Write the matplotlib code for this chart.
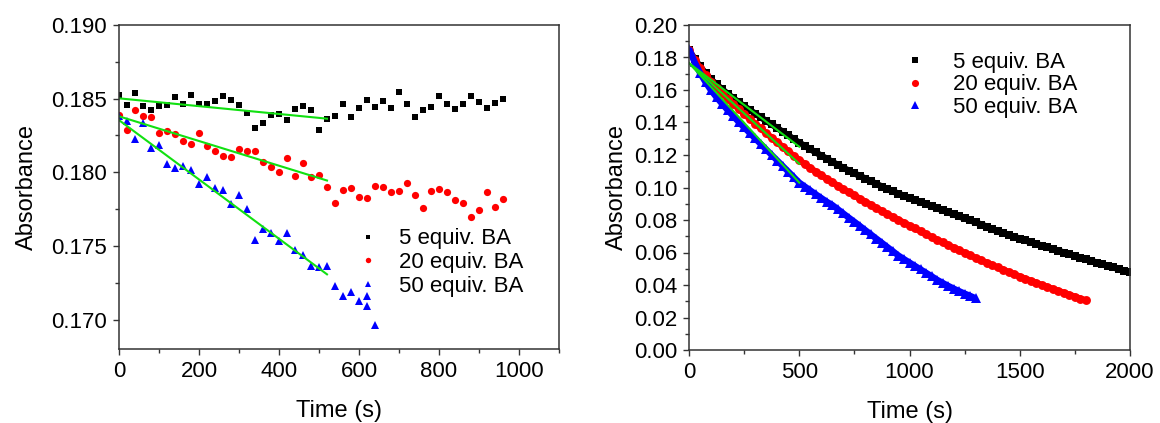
import numpy as np
import matplotlib
matplotlib.use("Agg")
import matplotlib.pyplot as plt
from matplotlib.ticker import MultipleLocator, FormatStrFormatter

plt.rcParams['font.family'] = ['Liberation Sans', 'DejaVu Sans']

# ---------------- data: left panel ----------------
labels = ["5 equiv. BA", "20 equiv. BA", "50 equiv. BA"]

t_left = list(range(0, 961, 20))
black_left = [0.18527, 0.18459, 0.18536, 0.18448, 0.18425, 0.18453, 0.18459, 0.18512,
              0.18466, 0.18527, 0.18466, 0.18466, 0.18484, 0.18516, 0.18488, 0.18455,
              0.18403, 0.18299, 0.18335, 0.18387, 0.18396, 0.18358, 0.18430, 0.18448,
              0.18425, 0.18290, 0.18364, 0.18385, 0.18464, 0.18378, 0.18437, 0.18488,
              0.18441, 0.18482, 0.18439, 0.18545, 0.18461, 0.18376, 0.18421, 0.18446,
              0.18520, 0.18464, 0.18432, 0.18466, 0.18518, 0.18478, 0.18437, 0.18471,
              0.18500]
red_left = [0.18392, 0.18290, 0.18421, 0.18380, 0.18373, 0.18267, 0.18283, 0.18263,
            0.18215, 0.18193, 0.18267, 0.18181, 0.18147, 0.18112, 0.18107, 0.18161,
            0.18145, 0.18145, 0.18073, 0.18037, 0.18003, 0.18098, 0.17978, 0.18061,
            0.17969, 0.17983, 0.17899, 0.17793, 0.17878, 0.17892, 0.17834, 0.17824,
            0.17905, 0.17899, 0.17867, 0.17876, 0.17924, 0.17849, 0.17759, 0.17872,
            0.17885, 0.17867, 0.17813, 0.17793, 0.17695, 0.17741, 0.17867, 0.17766,
            0.17820]
t_blue_left = [0, 20, 40, 60, 80, 100, 120, 140, 160, 180, 200, 220, 240, 260, 280, 300,
               320, 340, 360, 380, 400, 420, 440, 460, 480, 500, 520, 540, 560, 580, 600,
               620, 620, 640]
blue_left = [0.18380, 0.18349, 0.18224, 0.18337, 0.18163, 0.18183, 0.18059, 0.18030,
             0.18041, 0.18014, 0.17917, 0.17969, 0.17895, 0.17883, 0.17785, 0.17844,
             0.17754, 0.17542, 0.17617, 0.17590, 0.17533, 0.17585, 0.17472, 0.17438,
             0.17363, 0.17356, 0.17363, 0.17231, 0.17160, 0.17187, 0.17124, 0.17160,
             0.17089, 0.16963]

fit_t_left = [0, 520]
fit_black_left = [0.18502, 0.18364]
fit_red_left = [0.18380, 0.17944]
fit_blue_left = [0.18354, 0.17307]

# ---------------- data: right panel ----------------
t_black_right = list(range(0, 2001, 25))
black_right = [0.1845, 0.1792, 0.1745, 0.1702, 0.1665, 0.1634, 0.1605, 0.1577, 0.1551,
               0.1525, 0.1501, 0.1478, 0.1455, 0.1432, 0.1410, 0.1388, 0.1366, 0.1343,
               0.1321, 0.1298, 0.1276, 0.1256, 0.1236, 0.1216, 0.1196, 0.1177, 0.1158,
               0.1139, 0.1121, 0.1104, 0.1087, 0.1071, 0.1055, 0.1039, 0.1022, 0.1006,
               0.0990, 0.0976, 0.0962, 0.0949, 0.0935, 0.0922, 0.0910, 0.0898, 0.0885,
               0.0872, 0.0860, 0.0848, 0.0835, 0.0822, 0.0810, 0.0798, 0.0786, 0.0772,
               0.0760, 0.0744, 0.0730, 0.0720, 0.0708, 0.0697, 0.0685, 0.0674, 0.0664,
               0.0653, 0.0642, 0.0632, 0.0621, 0.0611, 0.0600, 0.0590, 0.0579, 0.0569,
               0.0558, 0.0548, 0.0538, 0.0528, 0.0518, 0.0508, 0.0497, 0.0487, 0.0477]
t_red_right = list(range(0, 1801, 25))
red_right = [0.1845, 0.1786, 0.1735, 0.1690, 0.1650, 0.1614, 0.1580, 0.1547, 0.1515,
             0.1484, 0.1453, 0.1423, 0.1393, 0.1364, 0.1335, 0.1306, 0.1278, 0.1250,
             0.1222, 0.1195, 0.1168, 0.1144, 0.1120, 0.1097, 0.1075, 0.1053, 0.1032,
             0.1011, 0.0990, 0.0970, 0.0951, 0.0931, 0.0912, 0.0893, 0.0874, 0.0855,
             0.0836, 0.0818, 0.0801, 0.0783, 0.0766, 0.0748, 0.0731, 0.0713, 0.0695,
             0.0679, 0.0662, 0.0646, 0.0630, 0.0614, 0.0598, 0.0583, 0.0567, 0.0552,
             0.0537, 0.0523, 0.0508, 0.0494, 0.0480, 0.0466, 0.0452, 0.0439, 0.0426,
             0.0413, 0.0400, 0.0388, 0.0376, 0.0364, 0.0352, 0.0340, 0.0328, 0.0316,
             0.0305]
t_blue_right = list(range(0, 1301, 25))
blue_right = [0.1855, 0.1772, 0.1705, 0.1648, 0.1598, 0.1555, 0.1515, 0.1477, 0.1440,
              0.1404, 0.1370, 0.1336, 0.1302, 0.1268, 0.1234, 0.1200, 0.1166, 0.1132,
              0.1098, 0.1064, 0.1030, 0.1006, 0.0982, 0.0958, 0.0935, 0.0912, 0.0892,
              0.0866, 0.0840, 0.0814, 0.0789, 0.0763, 0.0737, 0.0711, 0.0685, 0.0659,
              0.0633, 0.0607, 0.0581, 0.0559, 0.0538, 0.0517, 0.0496, 0.0475, 0.0454,
              0.0432, 0.0413, 0.0395, 0.0378, 0.0362, 0.0347, 0.0333, 0.0318]

fit_t_right = [0, 500]
fit_black_right = [0.1765, 0.1251]
fit_red_right = [0.1766, 0.1146]
fit_blue_right = [0.1766, 0.1030]

# ---------------- figure ----------------
W, H = 1160, 423
fig = plt.figure(figsize=(W / 100, H / 100), dpi=100)

def px_axes(l, r, t, b):
    return fig.add_axes([l / W, 1 - b / H, (r - l) / W, (b - t) / H])

axL = px_axes(119, 559, 25, 349)
axR = px_axes(689, 1130, 25, 350)

BLACK, RED, BLUE, GREEN = '#000000', '#ff0000', '#0000ff', '#11e011'
FS = 16

for ax in (axL, axR):
    for s in ax.spines.values():
        s.set_linewidth(1.1)
        s.set_color('#333333')
    ax.tick_params(which='both', direction='out', top=False, right=False,
                   labelsize=FS, width=1.0, color='#333333', pad=4)
    ax.tick_params(which='major', length=4.5)
    ax.tick_params(which='minor', length=2.6)

# left
axL.plot(t_left, black_left, 's', color=BLACK, ms=4.8, mew=0, label=labels[0])
axL.plot(t_left, red_left, 'o', color=RED, ms=5.2, mew=0, label=labels[1])
axL.plot(t_blue_left, blue_left, '^', color=BLUE, ms=5.8, mew=0, label=labels[2])
for fy in (fit_black_left, fit_red_left, fit_blue_left):
    axL.plot(fit_t_left, fy, '-', color=GREEN, lw=1.5)
axL.set_xlim(0, 1100)
axL.set_ylim(0.168, 0.190)
axL.xaxis.set_major_locator(MultipleLocator(200))
axL.xaxis.set_minor_locator(MultipleLocator(100))
axL.yaxis.set_major_locator(MultipleLocator(0.005))
axL.yaxis.set_minor_locator(MultipleLocator(0.0025))
axL.yaxis.set_major_formatter(FormatStrFormatter('%.3f'))
axL.set_xlabel('Time (s)', fontsize=17, labelpad=13)
axL.set_ylabel('Absorbance', fontsize=17, labelpad=10)
axL.legend(loc='upper left', bbox_to_anchor=(0.541, 0.372), frameon=False,
           fontsize=FS, handlelength=1.0, handletextpad=0.9, borderpad=0,
           borderaxespad=0, labelspacing=0.12, markerscale=0.75)

# right: dense measured points form a continuous band
handles = []
for tt, yy, mk, col, ms in ((t_black_right, black_right, 's', BLACK, 6.0),
                            (t_red_right, red_right, 'o', RED, 6.4),
                            (t_blue_right, blue_right, '^', BLUE, 7.0)):
    axR.plot(tt, yy, '-', color=col, lw=4.6, solid_capstyle='butt',
             solid_joinstyle='round')
    h, = axR.plot(tt, yy, mk, color=col, ms=ms, mew=0)
    handles.append(h)
for fy in (fit_black_right, fit_red_right, fit_blue_right):
    axR.plot(fit_t_right, fy, '-', color=GREEN, lw=1.5)
axR.set_xlim(0, 2000)
axR.set_ylim(0, 0.20)
axR.xaxis.set_major_locator(MultipleLocator(500))
axR.xaxis.set_minor_locator(MultipleLocator(250))
axR.yaxis.set_major_locator(MultipleLocator(0.02))
axR.yaxis.set_minor_locator(MultipleLocator(0.01))
axR.yaxis.set_major_formatter(FormatStrFormatter('%.2f'))
axR.set_xlabel('Time (s)', fontsize=17, labelpad=13)
axR.set_ylabel('Absorbance', fontsize=17, labelpad=4)
axR.legend(handles, labels, loc='upper left', bbox_to_anchor=(0.4875, 0.918),
           frameon=False, fontsize=FS, handlelength=1.0, handletextpad=1.2,
           borderpad=0, borderaxespad=0, labelspacing=0.08, markerscale=0.8)

fig.savefig('out.png', dpi=100, facecolor='white')
